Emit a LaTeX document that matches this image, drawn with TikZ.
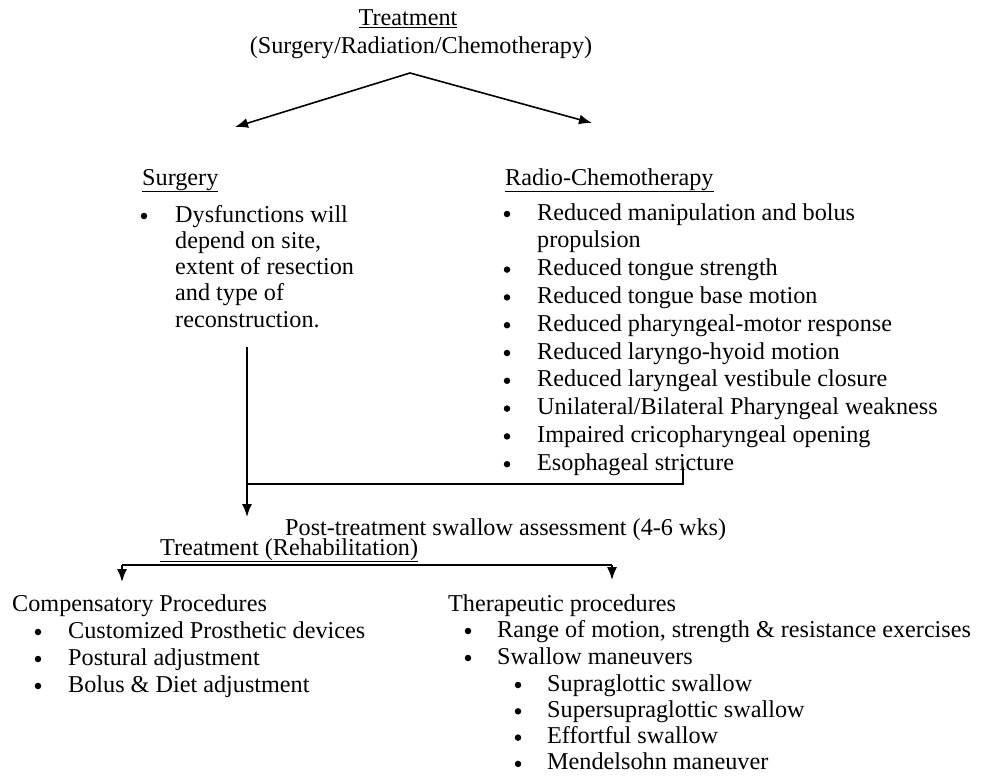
\documentclass[tikz,border=0pt]{standalone}
\usepackage{fontspec}
\setmainfont{Liberation Serif}
\usetikzlibrary{arrows.meta}
\begin{document}
\begin{tikzpicture}[x=1pt,y=-1pt,
  txt/.style={inner sep=0pt, anchor=west, font=\fontsize{24.2}{28}\selectfont,
              text height=18pt, text depth=4pt},
  ctr/.style={txt, anchor=center},
  bul/.style={circle, fill=black, inner sep=0pt, minimum size=6.5pt},
  conn/.style={line width=1.6pt, line join=miter},
  arr/.style={conn, -{Latex[length=13pt,width=10pt]}}]

% page
\fill[white] (0,0) rectangle (987,776);
\useasboundingbox (0,0) rectangle (987,776);

% heading
\node[ctr] (title) at (408,19) {\underline{Treatment}};
\node[ctr] (modes) at (421,47) {(Surgery/Radiation/Chemotherapy)};
\coordinate (apex) at (410,73);
\coordinate (tipL) at (235,127);
\coordinate (tipR) at (592,123);
\draw[arr] (apex) -- (tipL);
\draw[arr] (apex) -- (tipR);

% surgery branch
\node[txt] (surg) at (142,178) {\underline{Surgery}};
\node[bul] (sb1) at (144,216) {};
\foreach \t [count=\i] in {{Dysfunctions will},{depend on site,},{extent of resection},{and type of},{reconstruction.}}
  \node[txt] (s\i) at (175,{215+26.3*(\i-1)}) {\t};

% radio-chemotherapy branch
\node[txt] (rct) at (505,178) {\underline{Radio-Chemotherapy}};
\foreach \t [count=\i] in {{Reduced manipulation and bolus},{propulsion},{Reduced tongue strength},
    {Reduced tongue base motion},{Reduced pharyngeal-motor response},{Reduced laryngo-hyoid motion},
    {Reduced laryngeal vestibule closure},{Unilateral/Bilateral Pharyngeal weakness},
    {Impaired cricopharyngeal opening},{Esophageal stricture}}
  \node[txt] (r\i) at (537,{213+27.8*(\i-1)}) {\t};
\foreach \i in {1,3,4,5,6,7,8,9,10}
  \node[bul] (rb\i) at (507,{214+27.8*(\i-1)}) {};

% merge into assessment
\coordinate (sfoot) at (247,347);
\coordinate (join) at (247,484);
\coordinate (rfoot) at (683,467);
\coordinate (atip) at (247,517);
\draw[conn] (rfoot) |- (join);
\draw[arr] (sfoot) -- (atip);

\node[txt] (post) at (285,528) {Post-treatment swallow assessment (4-6 wks)};
\node[txt] (rehab) at (160,548) {\underline{Treatment (Rehabilitation)}};

% rehabilitation split
\coordinate (splitL) at (122,565);
\coordinate (splitR) at (612,565);
\coordinate (compTip) at (122,582);
\coordinate (therTip) at (612,580);
\draw[conn] (splitL) -- (splitR);
\draw[arr] (splitL) -- (compTip);
\draw[arr] (splitR) -- (therTip);

% compensatory procedures
\node[txt] (comp) at (12,604) {Compensatory Procedures};
\foreach \t [count=\i] in {{Customized Prosthetic devices},{Postural adjustment},{Bolus \& Diet adjustment}}{
  \node[bul] (cb\i) at (38,{632+27*(\i-1)}) {};
  \node[txt] (c\i) at (68,{631+27*(\i-1)}) {\t};
}

% therapeutic procedures
\node[txt] (ther) at (448,604) {Therapeutic procedures};
\foreach \t [count=\i] in {{Range of motion, strength \& resistance exercises},{Swallow maneuvers}}{
  \node[bul] (tb\i) at (468,{631+27*(\i-1)}) {};
  \node[txt] (t\i) at (497,{630+27*(\i-1)}) {\t};
}
\foreach \t [count=\i] in {{Supraglottic swallow},{Supersupraglottic swallow},{Effortful swallow},{Mendelsohn maneuver}}{
  \node[bul] (mb\i) at (518,{685+26.3*(\i-1)}) {};
  \node[txt] (m\i) at (547,{684+26.3*(\i-1)}) {\t};
}
\end{tikzpicture}
\end{document}
